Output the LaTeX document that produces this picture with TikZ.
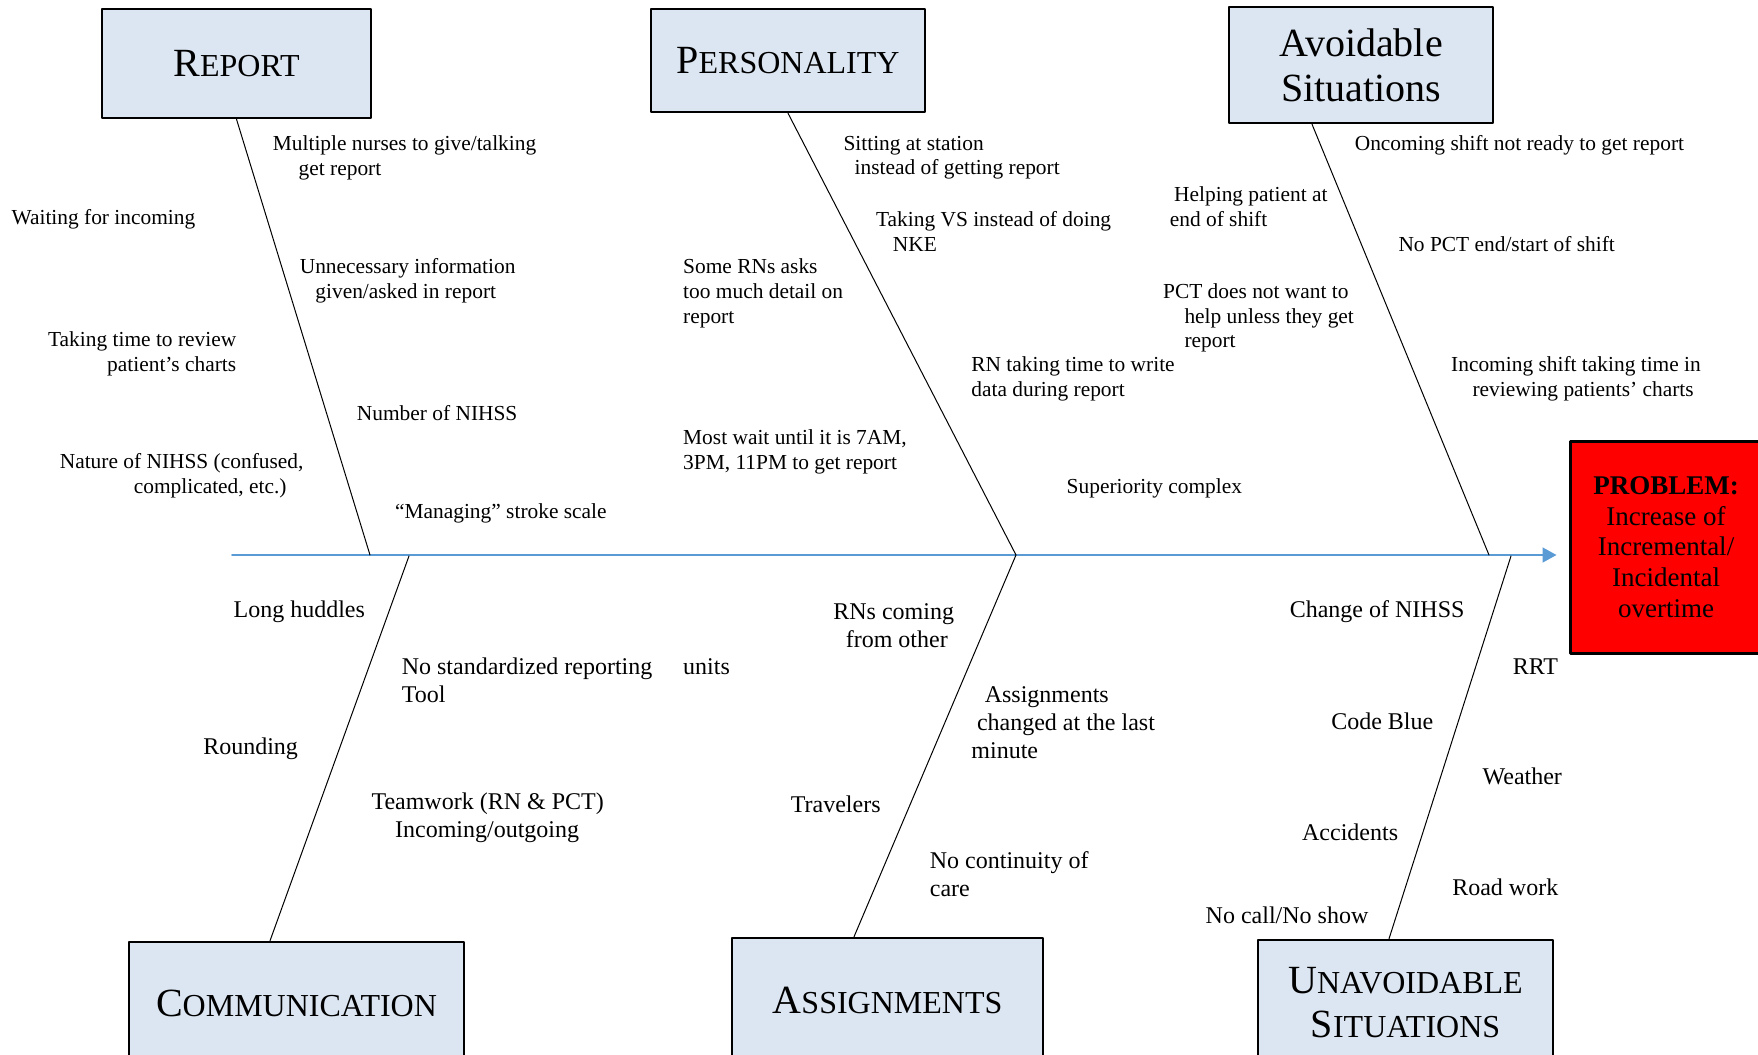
\documentclass[tikz,border=0pt]{standalone}
\usepackage{fontspec}
\setmainfont{Liberation Serif}
\usetikzlibrary{arrows.meta,calc}
\definecolor{boxblue}{HTML}{DCE6F2}
\definecolor{axisblue}{HTML}{5B9BD5}
\newcommand{\fakesc}[2]{{\fontsize{20}{22.4}\selectfont #1}{\fontsize{16}{22.4}\selectfont #2}}
\tikzset{
  cat/.style={draw, line width=1.2pt, fill=boxblue, inner sep=0pt, align=center, font=\fontsize{20}{22.4}\selectfont},
  note/.style={anchor=west, inner sep=0pt, align=left, yshift=-1.5pt, font=\fontsize{10.7}{12.35}\selectfont},
  big/.style={note, yshift=0.8pt, font=\fontsize{12}{14}\selectfont},
  bone/.style={line width=0.5pt}
}
\begin{document}
\begin{tikzpicture}[x=0.5pt, y=-0.5pt, line join=round, line cap=round]
\useasboundingbox (0,0) rectangle (1758,1055);
\node[cat, minimum width=134.5pt, minimum height=54.5pt] (report) at (236.5,63.5) {\fakesc{R}{EPORT}};
\node[cat, minimum width=137pt, minimum height=51.5pt] (personality) at (788,60.5) {\fakesc{P}{ERSONALITY}};
\node[cat, minimum width=132pt, minimum height=58pt] (avoidable) at (1361,65) {Avoidable\\Situations};
\node[cat, minimum width=167.5pt, minimum height=61.5pt] (communication) at (296.5,1003.5) {\fakesc{C}{OMMUNICATION}};
\node[cat, minimum width=155.5pt, minimum height=62pt] (assignments) at (887.5,1000) {\fakesc{A}{SSIGNMENTS}};
\node[cat, minimum width=147.5pt, minimum height=62.5pt] (unavoidable) at (1405.5,1002.5) {\fakesc{U}{NAVOIDABLE}\\\fakesc{S}{ITUATIONS}};
\node[draw, line width=1.5pt, fill=red, inner sep=0pt, align=center, minimum width=96pt, minimum height=106pt, font=\fontsize{13.5}{15.4}\selectfont] (problem) at (1666,547) {\textbf{PROBLEM:}\\Increase of\\Incremental/\\Incidental\\overtime};
\coordinate (tail) at (232,555);
\draw[axisblue, line width=0.8pt, -{Triangle[length=7pt,width=7.5pt]}] (tail) -- ([xshift=-6pt]tail -| problem.west);
\coordinate (j1) at (370,555);
\coordinate (j2) at (1016,555);
\coordinate (j3) at (1489,555);
\coordinate (k1) at (409,556);
\coordinate (k3) at (1511,556);
\draw[bone] (report.south) -- (j1);
\draw[bone] (personality.south) -- (j2);
\draw[bone] ($(avoidable.south)+(-49,0)$) -- (j3);
\draw[bone] (k1) -- ($(communication.north)+(-26.5,0)$);
\draw[bone] (j2) -- ($(assignments.north)+(-33.5,0)$);
\draw[bone] (k3) -- ($(unavoidable.north)+(-16.5,0)$);
\node[note] (r1) at (272.5,154.7) {Multiple nurses to give/talking\\\hspace*{12.9pt}get report};
\node[note] (r2) at (11.2,216.4) {Waiting for incoming};
\node[note] (r3) at (299.4,278) {Unnecessary information\\\hspace*{7.8pt}given/asked in report};
\node[note, anchor=east, align=right] (r4) at (236.6,351) {Taking time to review\\patient’s charts};
\node[note] (r5) at (356.5,410) {Number of NIHSS};
\node[note] (r6) at (59.4,473) {Nature of NIHSS (confused,\\\hspace*{37pt}complicated, etc.)};
\node[note] (r7) at (394.7,510.1) {“Managing” stroke scale};
\node[note] (p1) at (843.1,154.7) {Sitting at station\\\hspace*{5.6pt}instead of getting report};
\node[note] (p2) at (875.7,228.7) {Taking VS instead of doing\\\hspace*{8.4pt}NKE};
\node[note] (p3) at (682.8,290.4) {Some RNs asks\\too much detail on\\report};
\node[note] (p4) at (971,375.6) {RN taking time to write\\data during report};
\node[note] (p5) at (682.8,449) {Most wait until it is 7AM,\\3PM, 11PM to get report};
\node[note] (p6) at (1066.3,485.5) {Superiority complex};
\node[note] (a1) at (1354.4,142.4) {Oncoming shift not ready to get report};
\node[note] (a2) at (1169.4,204) {\hspace*{2.2pt}Helping patient at\\end of shift};
\node[note] (a3) at (1398.1,241.1) {No PCT end/start of shift};
\node[note] (a4) at (1162.7,315.1) {PCT does not want to\\\hspace*{10.7pt}help unless they get\\\hspace*{10.7pt}report};
\node[note] (a5) at (1450.8,375.6) {Incoming shift taking time in\\\hspace*{10.7pt}reviewing patients’ charts};
\node[big] (c1) at (233.2,609.9) {Long huddles};
\node[big] (c2) at (401.4,678.9) {No standardized reporting\\Tool};
\node[big] (c3) at (202.9,747.8) {Rounding};
\node[big] (c4) at (371.1,816.8) {Teamwork (RN \& PCT)\\\hspace*{11.8pt}Incoming/outgoing};
\node[big] (s1) at (833,624) {RNs coming\\\hspace*{6.2pt}from other};
\node[big] (s2) at (682.8,664.9) {units};
\node[big] (s3) at (971,720.9) {\hspace*{6.7pt}Assignments\\\hspace*{2.8pt}changed at the last\\minute};
\node[big] (s4) at (790.4,802.8) {Travelers};
\node[big] (s5) at (929.5,872.3) {No continuity of\\care};
\node[big] (u1) at (1289.4,609.9) {Change of NIHSS};
\node[big] (u2) at (1512.5,664.9) {RRT};
\node[big] (u3) at (1330.9,719.8) {Code Blue};
\node[big] (u4) at (1482.2,774.7) {Weather};
\node[big] (u5) at (1301.7,830.8) {Accidents};
\node[big] (u6) at (1451.9,885.7) {Road work};
\node[big] (u7) at (1205.3,913.8) {No call/No show};
\end{tikzpicture}
\end{document}
